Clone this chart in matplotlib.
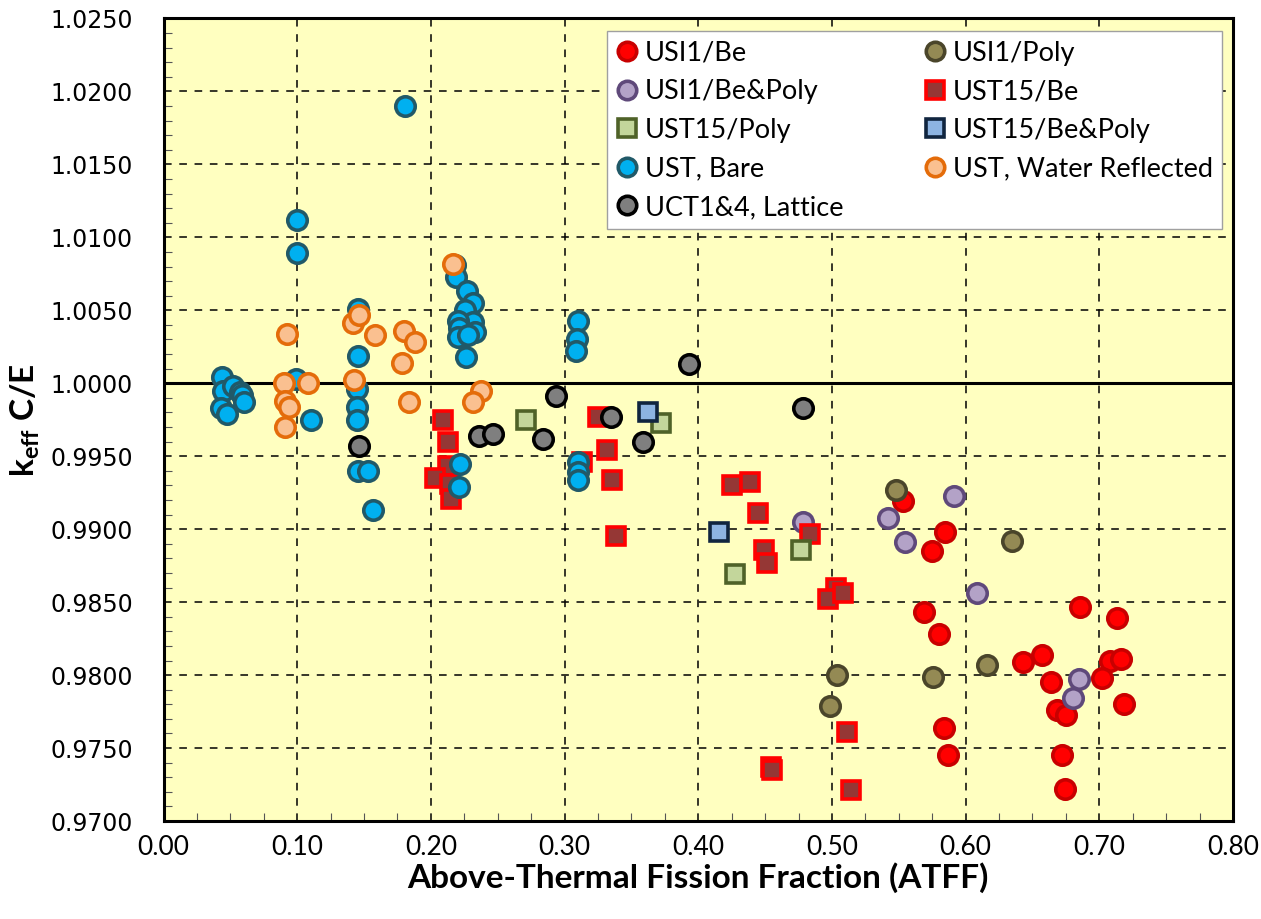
import matplotlib
matplotlib.use("Agg")
import matplotlib.pyplot as plt
from matplotlib.ticker import MultipleLocator, FormatStrFormatter

# --- data: (ATFF, keff C/E) per benchmark set ---
usi1_be_x = [0.5533, 0.5845, 0.5750, 0.5688, 0.5803, 0.5838, 0.5870, 0.6855, 0.7134, 0.6568,
             0.6426, 0.6636, 0.7079, 0.7159, 0.7017, 0.6680, 0.6748, 0.7184, 0.6718, 0.6743]
usi1_be_y = [0.9919, 0.9898, 0.9885, 0.9843, 0.9828, 0.9764, 0.9745, 0.9847, 0.9839, 0.9814,
             0.9809, 0.9795, 0.9810, 0.9811, 0.9798, 0.9776, 0.9773, 0.9780, 0.9745, 0.9722]

usi1_poly_x = [0.5476, 0.6349, 0.6157, 0.5753, 0.5040, 0.4985]
usi1_poly_y = [0.9927, 0.9892, 0.9807, 0.9799, 0.9800, 0.9779]

usi1_bepoly_x = [0.4785, 0.5421, 0.5546, 0.5912, 0.6082, 0.6850, 0.6800]
usi1_bepoly_y = [0.9905, 0.9908, 0.9891, 0.9923, 0.9856, 0.9797, 0.9784]

ust15_be_x = [0.2093, 0.2125, 0.2125, 0.2031, 0.2143, 0.2148, 0.3252, 0.3128, 0.3315, 0.3352,
              0.3382, 0.4254, 0.4387, 0.4444, 0.4494, 0.4511, 0.4836, 0.5030, 0.4972, 0.5080,
              0.5110, 0.5140, 0.4544, 0.4550]
ust15_be_y = [0.9975, 0.9960, 0.9943, 0.9935, 0.9931, 0.9921, 0.9977, 0.9946, 0.9954, 0.9934,
              0.9895, 0.9930, 0.9932, 0.9911, 0.9886, 0.9877, 0.9897, 0.9860, 0.9852, 0.9856,
              0.9761, 0.9721, 0.9737, 0.9735]

ust15_poly_x = [0.2711, 0.3721, 0.4275, 0.4768]
ust15_poly_y = [0.9975, 0.9973, 0.9869, 0.9886]

ust15_bepoly_x = [0.3621, 0.4155]
ust15_bepoly_y = [0.9980, 0.9898]

ust_bare_x = [0.0440, 0.0448, 0.0522, 0.0572, 0.0585, 0.0602, 0.0428, 0.0477, 0.0991, 0.0996,
              0.0996, 0.1100, 0.1452, 0.1457, 0.1450, 0.1445, 0.1445, 0.1457, 0.1527, 0.1569,
              0.1806, 0.2180, 0.2188, 0.2268, 0.2317, 0.2255, 0.2317, 0.2205, 0.2212, 0.2205,
              0.2330, 0.2277, 0.2263, 0.2218, 0.2213, 0.3098, 0.3091, 0.3085, 0.3103, 0.3098,
              0.3098]
ust_bare_y = [1.0004, 0.9995, 0.9998, 0.9994, 0.9992, 0.9987, 0.9983, 0.9979, 1.0003, 1.0112,
              1.0089, 0.9975, 1.0051, 1.0019, 0.9996, 0.9984, 0.9975, 0.9940, 0.9940, 0.9913,
              1.0190, 1.0081, 1.0073, 1.0063, 1.0055, 1.0050, 1.0042, 1.0043, 1.0038, 1.0032,
              1.0035, 1.0033, 1.0018, 0.9945, 0.9929, 1.0043, 1.0030, 1.0022, 0.9946, 0.9939,
              0.9934]

ust_water_x = [0.0926, 0.0901, 0.1080, 0.0909, 0.0941, 0.0909, 0.1420, 0.1465, 0.1582, 0.1425,
               0.1799, 0.1881, 0.1782, 0.1836, 0.2168, 0.2375, 0.2312]
ust_water_y = [1.0034, 1.0000, 1.0000, 0.9988, 0.9984, 0.9970, 1.0041, 1.0047, 1.0033, 1.0002,
               1.0036, 1.0028, 1.0014, 0.9987, 1.0082, 0.9995, 0.9987]

uct_x = [0.1465, 0.2362, 0.2467, 0.2933, 0.2841, 0.3347, 0.3589, 0.3930, 0.4783]
uct_y = [0.9957, 0.9964, 0.9965, 0.9991, 0.9962, 0.9977, 0.9960, 1.0013, 0.9983]

# label, x, y, marker, face, edge
series = [
    ("USI1/Be", usi1_be_x, usi1_be_y, "o", "#FF0000", "#C80000"),
    ("USI1/Poly", usi1_poly_x, usi1_poly_y, "o", "#948A54", "#4A452A"),
    ("USI1/Be&Poly", usi1_bepoly_x, usi1_bepoly_y, "o", "#B3A2C7", "#5F497A"),
    ("UST15/Be", ust15_be_x, ust15_be_y, "s", "#953735", "#FF0000"),
    ("UST15/Poly", ust15_poly_x, ust15_poly_y, "s", "#C3D69B", "#4F6228"),
    ("UST15/Be&Poly", ust15_bepoly_x, ust15_bepoly_y, "s", "#8DB4E2", "#10253F"),
    ("UST, Bare", ust_bare_x, ust_bare_y, "o", "#00B0F0", "#215968"),
    ("UST, Water Reflected", ust_water_x, ust_water_y, "o", "#FAC090", "#E46C0A"),
    ("UCT1&4, Lattice", uct_x, uct_y, "o", "#7F7F7F", "#000000"),
]

plt.rcParams["mathtext.fontset"] = "custom"
plt.rcParams["mathtext.bf"] = "Lato:bold"
plt.rcParams["mathtext.rm"] = "Lato"

fig = plt.figure(figsize=(12.61, 9.19), dpi=100)
ax = fig.add_axes([0.1297, 0.1066, 0.8481, 0.8733])
ax.set_facecolor("#FFFFC0")

handles = {}
for i, (lab, xs, ys, mk, fc, ec) in enumerate(series):
    ms = 14 if mk == "o" else 13
    h, = ax.plot(xs, ys, ls="none", marker=mk, ms=ms, mfc=fc, mec=ec, mew=2.6,
                 label=lab, zorder=3 + i)
    handles[lab] = h

ax.axhline(1.0, color="black", lw=2.2, zorder=2)

ax.set_xlim(0.0, 0.8)
ax.set_ylim(0.97, 1.025)
ax.xaxis.set_major_locator(MultipleLocator(0.1))
ax.xaxis.set_minor_locator(MultipleLocator(0.025))
ax.yaxis.set_major_locator(MultipleLocator(0.005))
ax.yaxis.set_minor_locator(MultipleLocator(0.001))
ax.xaxis.set_major_formatter(FormatStrFormatter("%.2f"))
ax.yaxis.set_major_formatter(FormatStrFormatter("%.4f"))
ax.grid(True, which="major", color="black", ls=(0, (5, 5)), lw=1.1, zorder=1)
ax.set_axisbelow(True)

ax.tick_params(which="both", direction="in", top=False, right=False)
ax.tick_params(which="major", length=0)
ax.tick_params(which="minor", length=6, width=0.8, color="#555555")
ax.tick_params(axis="y", labelsize=17, pad=22)
ax.tick_params(axis="x", labelsize=19, pad=10)
for t in ax.get_xticklabels():
    t.set_fontfamily("Lato")
for t in ax.get_yticklabels():
    t.set_fontfamily("DejaVu Sans")
for sp in ax.spines.values():
    sp.set_linewidth(2.2)
    sp.set_color("black")

ax.set_xlabel("Above-Thermal Fission Fraction (ATFF)", fontsize=24, fontweight="bold",
              fontfamily="Lato", labelpad=2)
ax.set_ylabel(r"$\mathbf{k_{eff}}$ C/E", fontsize=24, fontweight="bold",
              fontfamily="Lato", labelpad=6)

order = ["USI1/Be", "USI1/Be&Poly", "UST15/Poly", "UST, Bare", "UCT1&4, Lattice",
         "USI1/Poly", "UST15/Be", "UST15/Be&Poly", "UST, Water Reflected"]
leg = ax.legend([handles[k] for k in order], order, loc="upper right", ncol=2,
                bbox_to_anchor=(0.99, 0.984), prop={"family": "Lato", "size": 19.5},
                frameon=True, fancybox=False, framealpha=1, edgecolor="#A0A0A0",
                handlelength=0.8, handletextpad=0.25, columnspacing=3.0,
                labelspacing=0.5, borderpad=0.35, borderaxespad=0, markerscale=0.95)
leg.get_frame().set_linewidth(1.0)
leg.set_zorder(20)

fig.savefig("out.png", dpi=100, facecolor="white")
